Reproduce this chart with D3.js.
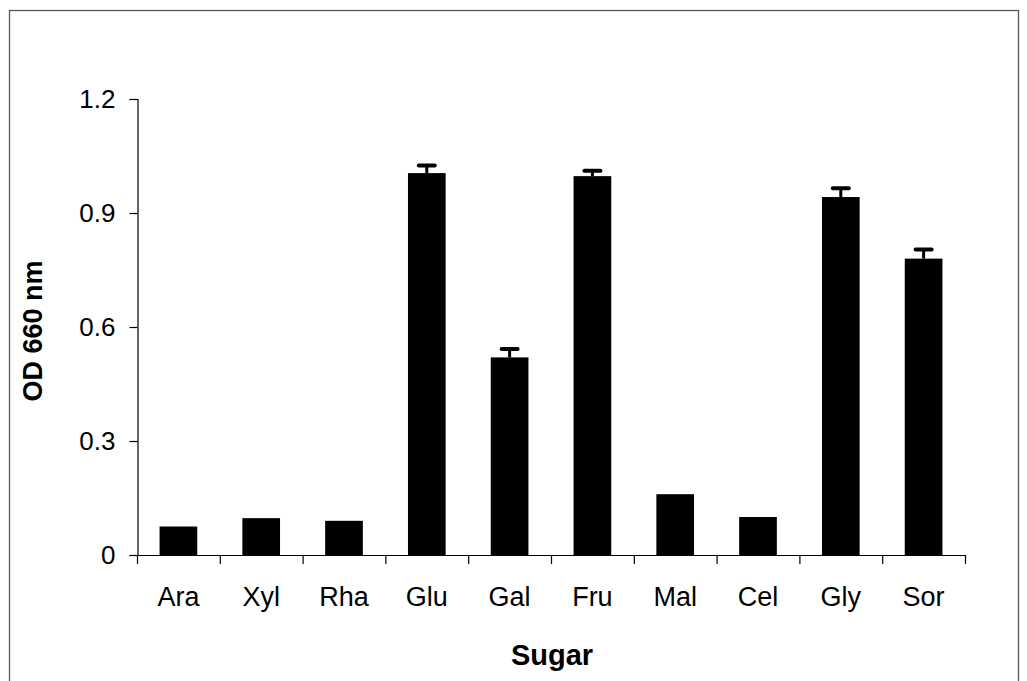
<!DOCTYPE html>
<html>
<head>
<meta charset="utf-8">
<script src="https://cdn.jsdelivr.net/npm/d3@7"></script>
<style>
  html, body { margin: 0; padding: 0; background: #fff; }
  svg { display: block; }
  text { font-family: "Liberation Sans", Arial, sans-serif; fill: #000; }
</style>
</head>
<body>
<svg id="chart" width="1027" height="681"></svg>
<script>
const categories = ["Ara", "Xyl", "Rha", "Glu", "Gal", "Fru", "Mal", "Cel", "Gly", "Sor"];
const values = [0.075, 0.097, 0.090, 1.005, 0.520, 0.997, 0.160, 0.100, 0.942, 0.780];
const errors = [0, 0, 0, 0.020, 0.022, 0.014, 0, 0, 0.023, 0.024];
const yTicks = [0, 0.3, 0.6, 0.9, 1.2];
const yTickLabels = ["0", "0.3", "0.6", "0.9", "1.2"];
const xTitle = "Sugar";
const yTitle = "OD 660 nm";

(function () {
const svg = d3.select("#chart");

// outer frame
svg.append("rect")
  .attr("x", 9.5).attr("y", 10.5)
  .attr("width", 1009).attr("height", 690)
  .attr("fill", "none").attr("stroke", "#555").attr("stroke-width", 1.3);

const pLeft = 137, pRight = 965, pTop = 99, pBottom = 555;

const x = d3.scaleBand().domain(categories).range([pLeft, pRight]).paddingInner(0.545).paddingOuter(0.2725);
const y = d3.scaleLinear().domain([0, 1.2]).range([pBottom, pTop]);

// y axis
const yAxis = d3.axisLeft(y).tickValues(yTicks)
  .tickFormat((d, i) => yTickLabels[i]).tickSize(8).tickPadding(14);
const gy = svg.append("g").attr("transform", `translate(${pLeft + 0.5},0)`).call(yAxis);
gy.select(".domain").attr("stroke", "#000").attr("stroke-width", 1.2);
gy.selectAll(".tick line").attr("stroke", "#000").attr("stroke-width", 1.2);
gy.selectAll(".tick text").style("font-size", "26px")
  .style("font-family", "'Liberation Sans', Arial, sans-serif").attr("fill", "#000");

// x axis with category boundary ticks
const boundaries = d3.range(categories.length + 1).map(i => pLeft + i * (pRight - pLeft) / categories.length);
const gx = svg.append("g");
gx.append("line").attr("x1", pLeft).attr("x2", pRight).attr("y1", pBottom + 0.5).attr("y2", pBottom + 0.5)
  .attr("stroke", "#000").attr("stroke-width", 1.2);
gx.selectAll(".bt").data(boundaries).join("line")
  .attr("x1", d => d + 0.5).attr("x2", d => d + 0.5)
  .attr("y1", pBottom).attr("y2", pBottom + 9)
  .attr("stroke", "#000").attr("stroke-width", 1.2);
gx.selectAll(".xl").data(categories).join("text")
  .attr("x", d => x(d) + x.bandwidth() / 2)
  .attr("y", 606)
  .attr("text-anchor", "middle")
  .style("font-size", "27px")
  .text(d => d);

// bars
const data = categories.map((c, i) => ({ c, v: values[i], e: errors[i] }));
svg.selectAll(".bar").data(data).join("rect")
  .attr("class", "bar")
  .attr("x", d => x(d.c))
  .attr("width", x.bandwidth())
  .attr("y", d => y(d.v))
  .attr("height", d => y(0) - y(d.v))
  .attr("fill", "#000");

// error bars (upper only)
const eb = svg.selectAll(".eb").data(data.filter(d => d.e > 0)).join("g").attr("class", "eb");
eb.append("line")
  .attr("x1", d => x(d.c) + x.bandwidth() / 2).attr("x2", d => x(d.c) + x.bandwidth() / 2)
  .attr("y1", d => y(d.v)).attr("y2", d => y(d.v + d.e))
  .attr("stroke", "#000").attr("stroke-width", 3);
eb.append("line")
  .attr("x1", d => x(d.c) + x.bandwidth() / 2 - 8).attr("x2", d => x(d.c) + x.bandwidth() / 2 + 8)
  .attr("y1", d => y(d.v + d.e)).attr("y2", d => y(d.v + d.e))
  .attr("stroke", "#000").attr("stroke-width", 4).attr("stroke-linecap", "round");

// titles
svg.append("text")
  .attr("x", (pLeft + pRight) / 2 + 1).attr("y", 665)
  .attr("text-anchor", "middle")
  .style("font-size", "29px").style("font-weight", "bold")
  .text(xTitle);

svg.append("text")
  .attr("transform", `translate(42,331) rotate(-90)`)
  .attr("text-anchor", "middle")
  .style("font-size", "27px").style("font-weight", "bold")
  .text(yTitle);
})();
</script>
</body>
</html>
